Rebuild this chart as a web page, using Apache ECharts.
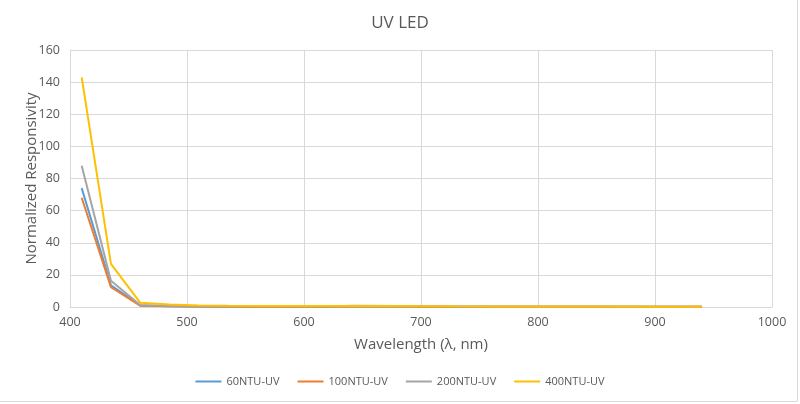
<!DOCTYPE html>
<html>
<head>
<meta charset="utf-8">
<script src="https://cdn.jsdelivr.net/npm/echarts@6/dist/echarts.min.js"></script>
<style>
html,body{margin:0;padding:0;background:#fff;}
#main{width:800px;height:404px;}
</style>
</head>
<body>
<div id="main"></div>
<script>
// wavelengths of the 18 sensor channels (nm)
let wavelengths = [410, 435, 460, 485, 510, 535, 560, 585, 610, 645, 680, 705, 730, 760, 810, 860, 900, 940];
let names = ['60NTU-UV', '100NTU-UV', '200NTU-UV', '400NTU-UV'];
let colors = ['#5b9bd5', '#ed7d31', '#a5a5a5', '#ffc000'];

let ntu60  = [74, 13.5, 1.0, 0.5, 0.3, 0.3, 0.2, 0.2, 0.2, 0.4, 0.3, 0.2, 0.1, 0.1, 0.1, 0.1, 0.1, 0.1];
let ntu100 = [68, 12.3, 0.8, 0.4, 0.3, 0.2, 0.2, 0.2, 0.2, 0.3, 0.3, 0.2, 0.1, 0.1, 0.1, 0.1, 0.1, 0.1];
let ntu200 = [88, 16.4, 1.3, 0.7, 0.5, 0.4, 0.4, 0.4, 0.3, 0.8, 0.6, 0.4, 0.2, 0.2, 0.2, 0.1, 0.1, 0.1];
let ntu400 = [143, 26.8, 2.7, 1.6, 1.0, 0.8, 0.7, 0.7, 0.6, 0.7, 0.6, 0.5, 0.4, 0.3, 0.3, 0.3, 0.2, 0.2];

let seriesData = [ntu60, ntu100, ntu200, ntu400];
let font = '"Open Sans", "Liberation Sans", sans-serif';

window.addEventListener('load', function () {
    let chart = echarts.init(document.getElementById('main'));
    let series = [];
    for (let i = 0; i < names.length; i++) {
        series.push({
            name: names[i],
            type: 'line',
            showSymbol: false,
            symbol: 'none',
            lineStyle: {width: 2, color: colors[i]},
            itemStyle: {color: colors[i]},
            data: wavelengths.map((w, j) => [w, seriesData[i][j]])
        });
    }
    let option = {
        backgroundColor: '#fff',
        animation: false,
        title: {
            text: 'UV LED',
            left: 'center',
            top: 10,
            textStyle: {fontFamily: font, fontSize: 17, fontWeight: 'normal', color: '#595959'}
        },
        legend: {
            top: 371,
            left: 'center',
            itemWidth: 26,
            itemHeight: 2,
            itemGap: 18,
            icon: 'rect',
            textStyle: {fontFamily: font, fontSize: 11, color: '#595959'},
            data: names
        },
        grid: {left: 70, right: 28, top: 50, bottom: 97},
        xAxis: {
            type: 'value',
            min: 400, max: 1000, interval: 100,
            name: 'Wavelength (λ, nm)',
            nameLocation: 'middle',
            nameGap: 30,
            nameMoveOverlap: false,
            nameTextStyle: {fontFamily: font, fontSize: 15, color: '#595959'},
            axisLine: {show: true, lineStyle: {color: '#d9d9d9'}},
            axisTick: {show: false},
            axisLabel: {fontFamily: font, fontSize: 12.5, color: '#595959', margin: 9, formatter: v => String(v)},
            splitLine: {show: true, lineStyle: {color: '#d9d9d9'}}
        },
        yAxis: {
            type: 'value',
            min: 0, max: 160, interval: 20,
            name: 'Normalized Responsivity',
            nameLocation: 'middle',
            nameGap: 31,
            nameMoveOverlap: false,
            nameTextStyle: {fontFamily: font, fontSize: 15, color: '#595959'},
            axisLine: {show: true, lineStyle: {color: '#d9d9d9'}},
            axisTick: {show: false},
            axisLabel: {fontFamily: font, fontSize: 12.5, color: '#595959', margin: 10},
            splitLine: {show: true, lineStyle: {color: '#d9d9d9'}}
        },
        graphic: [{
            type: 'rect',
            shape: {x: -2, y: -2, width: 799.5, height: 403.5},
            style: {fill: 'none', stroke: '#d9d9d9', lineWidth: 1},
            silent: true
        }],
        series: series
    };
    chart.setOption(option);
});
</script>
</body>
</html>
